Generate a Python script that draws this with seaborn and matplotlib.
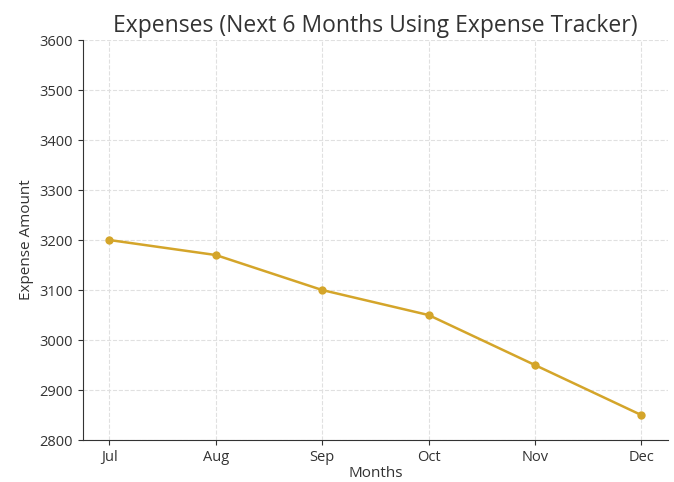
import matplotlib
matplotlib.use("Agg")
import matplotlib.pyplot as plt
import seaborn as sns
import pandas as pd

months = ["Jul", "Aug", "Sep", "Oct", "Nov", "Dec"]
expenses = [3200, 3170, 3100, 3050, 2950, 2850]

sns.set_style("ticks")
plt.rcParams['font.family'] = ['Open Sans', 'DejaVu Sans']

df = pd.DataFrame({"Months": months, "Expense Amount": expenses})

fig = plt.figure(figsize=(6.74, 4.82), dpi=100)
ax = fig.add_axes([0.123, 0.087, 0.868, 0.83])
sns.lineplot(data=df, x="Months", y="Expense Amount", marker="o", color="#d4a52a",
             linewidth=1.8, markersize=6, markeredgewidth=0, ax=ax, sort=False)
ax.set_ylim(2800, 3600)
ax.set_yticks(range(2800, 3601, 100))
ax.grid(True, linestyle="--", color="#e0e0e0", linewidth=0.8)
ax.set_title("Expenses (Next 6 Months Using Expense Tracker)", fontsize=16.5, color="#333333")
ax.set_xlabel("Months", fontsize=11, color="#333333", labelpad=1)
ax.set_ylabel("Expense Amount", fontsize=11, color="#333333")
ax.tick_params(labelsize=10.5, colors="#333333")
for s in ["top", "right"]:
    ax.spines[s].set_visible(False)
for s in ["left", "bottom"]:
    ax.spines[s].set_color("#333333")
fig.savefig("out.png", dpi=100)
